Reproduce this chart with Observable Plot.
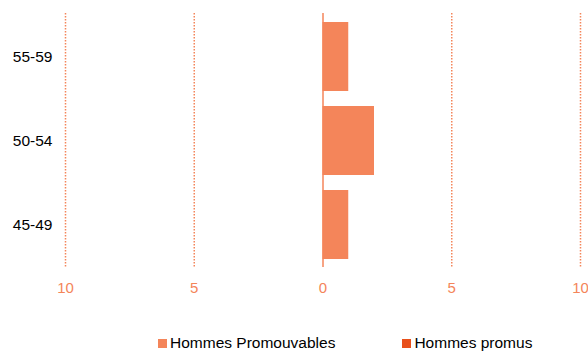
<!DOCTYPE html>
<html><head><meta charset="utf-8">
<script src="https://cdn.jsdelivr.net/npm/d3@7"></script>
<script src="https://cdn.jsdelivr.net/npm/@observablehq/plot@0.6"></script>
<style>
body{margin:0;background:#fff;font-family:"Liberation Sans",Arial,sans-serif;}
#legend{display:flex;align-items:center;padding-top:24px;margin-left:158px;font-size:15.5px;line-height:18px;color:#000;white-space:nowrap;}
.item{display:flex;align-items:center;margin-right:67px;flex:none;}
.sw{width:9px;height:9px;margin-right:3px;flex:none;}
</style></head>
<body><div id="chart"></div>
<div id="legend"></div>
<script>
const ageGroups = ["55-59","50-54","45-49"];
const hommesPromouvables = [1, 2, 1];
const hommesPromus = [0, 0, 0];
const xTicks = [-10, -5, 0, 5, 10];
const gridTicks = [-10, -5, 5, 10];
const seriesNames = ["Hommes Promouvables", "Hommes promus"];
const seriesColors = ["#F4855A", "#E8501B"];

const rows = ageGroups.map((a, i) => ({age: a, promouvables: hommesPromouvables[i], promus: hommesPromus[i]}));

const plot = Plot.plot({
  width: 588, height: 310,
  marginTop: 13, marginBottom: 43, marginLeft: 65, marginRight: 8,
  style: {fontFamily: '"Liberation Sans",Arial,sans-serif', fontSize: "15px", background: "#fff"},
  x: {domain: [-10, 10], ticks: xTicks, tickFormat: d => Math.abs(d), tickSize: 0, tickPadding: 15, label: null},
  y: {domain: ageGroups, paddingInner: 0.18, paddingOuter: 0.09, tickSize: 0, tickPadding: 13, label: null},
  marks: [
    Plot.ruleX(gridTicks, {stroke: "#F4855A", strokeWidth: 1.5, strokeDasharray: "1.5,1.5"}),
    Plot.barX(rows, {y: "age", x1: 0, x2: "promouvables", fill: seriesColors[0]}),
    Plot.barX(rows, {y: "age", x1: 0, x2: "promus", fill: seriesColors[1]}),
    Plot.ruleX([0], {stroke: "#F4855A", strokeWidth: 1.5}),
    Plot.axisX({ticks: xTicks, tickFormat: d => Math.abs(d), tickSize: 0, tickPadding: 15, color: "#F4855A", fontSize: 15}),
    Plot.axisY({tickSize: 0, tickPadding: 13, fontSize: 15.5, color: "#000"})
  ]
});
document.getElementById("chart").append(plot);

const lg = document.getElementById("legend");
seriesNames.forEach((n, i) => {
  const it = document.createElement("div"); it.className = "item";
  const sw = document.createElement("span"); sw.className = "sw"; sw.style.background = seriesColors[i];
  const t = document.createElement("span"); t.textContent = n;
  it.append(sw, t); lg.append(it);
});
</script></body></html>
